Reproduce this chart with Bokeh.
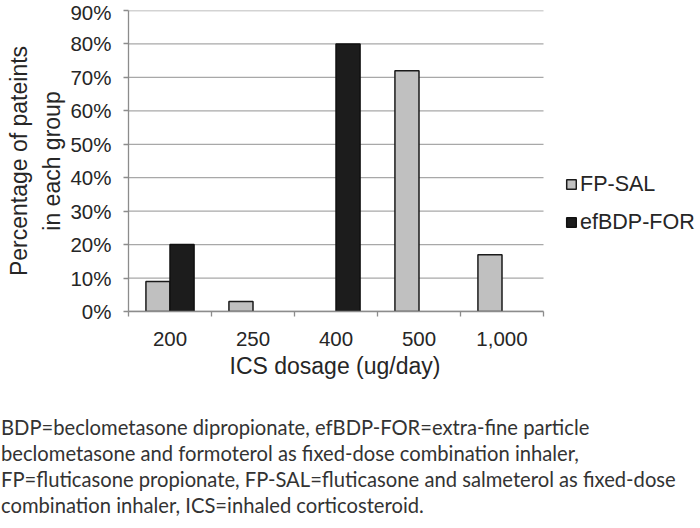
from bokeh.plotting import figure
from bokeh.models import (ColumnDataSource, Range1d, FixedTicker, PrintfTickFormatter,
                          Legend, LegendItem, Div, Title)
from bokeh.layouts import column
from bokeh.embed import file_html
from bokeh.resources import INLINE

# ---- data ----
categories = ["200", "250", "400", "500", "1,000"]
fp_sal = [9, 3, 0, 72, 17]
efbdp_for = [20, 0, 80, 0, 0]
series_names = ["FP-SAL", "efBDP-FOR"]
y_ticks = [0, 10, 20, 30, 40, 50, 60, 70, 80, 90]
x_title = "ICS dosage (ug/day)"
y_title = "Percentage of pateints\nin each group"
caption_lines = [
    "BDP=beclometasone dipropionate, efBDP-FOR=extra-fine particle",
    "beclometasone and formoterol as fixed-dose combination inhaler,",
    "FP=fluticasone propionate, FP-SAL=fluticasone and salmeterol as fixed-dose",
    "combination inhaler, ICS=inhaled corticosteroid.",
]

FONT = "Liberation Sans"
TXT = "#262626"
AX = "#8c8c8c"
GRID = "#a8a8a8"

W, H = 700, 414
L, R = 128, 543          # pixel extent of the category area
n = len(categories)
x_end = n * (W - L) / (R - L)   # frame extends to the right edge (room for legend)

p = figure(width=W, height=H, output_backend="svg", toolbar_location=None,
           x_range=Range1d(0, x_end), y_range=Range1d(0, 90),
           min_border_left=L, min_border_right=0, min_border_top=10,
           min_border_bottom=103)
p.outline_line_color = None
p.background_fill_color = "white"
p.xgrid.visible = False
p.ygrid.visible = False

# horizontal gridlines limited to the category area
p.segment(x0=[0] * len(y_ticks), x1=[n] * len(y_ticks), y0=y_ticks, y1=y_ticks,
          line_color=GRID, line_width=1.3)

BW = 0.29
OFF = 0.145


def src(vals, off):
    xs = [i + 0.5 + off for i, v in enumerate(vals) if v > 0]
    ts = [v for v in vals if v > 0]
    return ColumnDataSource(dict(x=xs, top=ts))


r1 = p.vbar(x="x", top="top", width=BW, bottom=0, source=src(fp_sal, -OFF),
            fill_color="#c0c0c0", line_color="#1a1a1a", line_width=1.5)
r2 = p.vbar(x="x", top="top", width=BW, bottom=0, source=src(efbdp_for, OFF),
            fill_color="#1c1c1c", line_color="#111111", line_width=1.5)

# x axis
xa = p.xaxis[0]
xa.bounds = (0, n)
xa.ticker = FixedTicker(ticks=[i + 0.5 for i in range(n)], minor_ticks=list(range(n + 1)))
xa.major_label_overrides = {i + 0.5: c for i, c in enumerate(categories)}
xa.major_tick_line_color = None
xa.major_tick_out = 5
xa.major_tick_in = 0
xa.minor_tick_out = 5
xa.minor_tick_in = 0
xa.minor_tick_line_color = AX
xa.minor_tick_line_width = 1.3
xa.axis_line_color = AX
xa.axis_line_width = 1.3
xa.major_label_standoff = 15
xa.major_label_text_font = FONT
xa.major_label_text_font_size = "20.5px"
xa.major_label_text_color = TXT

# x-axis title, placed under the category area (frame also holds the legend)
x_title_obj = Title(text=x_title, align="left", offset=101,
                    text_font=FONT, text_font_size="23px", text_font_style="normal",
                    text_color=TXT, standoff=5)
p.add_layout(x_title_obj, "below")

# y axis
ya = p.yaxis[0]
ya.ticker = FixedTicker(ticks=y_ticks, minor_ticks=[])
ya.formatter = PrintfTickFormatter(format="%d%%")
ya.major_tick_out = 5
ya.major_tick_in = 0
ya.major_tick_line_color = AX
ya.major_tick_line_width = 1.3
ya.minor_tick_line_color = None
ya.axis_line_color = AX
ya.axis_line_width = 1.3
ya.major_label_standoff = 12
ya.major_label_text_font = FONT
ya.major_label_text_font_size = "20.5px"
ya.major_label_text_color = TXT
ya.axis_label = y_title
ya.axis_label_text_font = FONT
ya.axis_label_text_font_size = "23px"
ya.axis_label_text_font_style = "normal"
ya.axis_label_text_color = TXT
ya.axis_label_text_line_height = 1.3
ya.axis_label_standoff = 2

legend = Legend(items=[LegendItem(label=series_names[0], renderers=[r1]),
                       LegendItem(label=series_names[1], renderers=[r2])],
                location=(437, 70), orientation="vertical",
                glyph_width=12, glyph_height=12, label_standoff=3,
                label_height=38, spacing=0, padding=0, margin=0,
                label_text_font=FONT, label_text_font_size="21.5px",
                label_text_color=TXT, border_line_color=None,
                background_fill_alpha=0)
p.add_layout(legend)

caption = "<br>".join(caption_lines)
div = Div(text=('<div style="font-family: Lato; padding-left:1px; '
                'font-size:20.2px; line-height:26px; color:#333333; white-space:nowrap;">'
                + caption + '</div>'), width=W, margin=(0, 0, 0, 0))

layout = column(p, div)
open("out.html", "w").write(file_html(layout, INLINE))
